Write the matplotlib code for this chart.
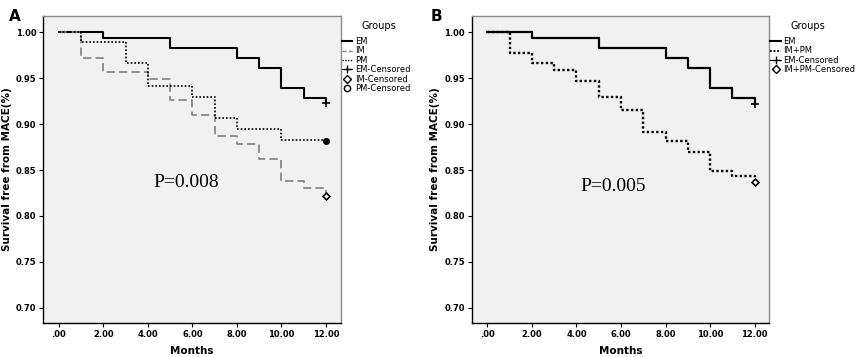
import matplotlib.pyplot as plt
from matplotlib.lines import Line2D

# Panel A: EM / IM / PM
a_em_t = [0, 2, 5, 8, 9, 10, 11, 12]
a_em_s = [1.0, 0.994, 0.983, 0.972, 0.961, 0.939, 0.928, 0.923]
a_im_t = [0, 1, 2, 4, 5, 6, 7, 8, 9, 10, 11, 12]
a_im_s = [1.0, 0.972, 0.957, 0.949, 0.926, 0.910, 0.887, 0.878, 0.862, 0.838, 0.830, 0.822]
a_pm_t = [0, 1, 3, 4, 6, 7, 8, 10, 12]
a_pm_s = [1.0, 0.989, 0.966, 0.942, 0.930, 0.907, 0.895, 0.883, 0.882]

# Panel B: EM / IM+PM
b_em_t = [0, 2, 5, 8, 9, 10, 11, 12]
b_em_s = [1.0, 0.994, 0.983, 0.972, 0.961, 0.939, 0.928, 0.922]
b_ip_t = [0, 1, 2, 3, 4, 5, 6, 7, 8, 9, 10, 11, 12]
b_ip_s = [1.0, 0.977, 0.966, 0.959, 0.947, 0.929, 0.915, 0.891, 0.882, 0.870, 0.849, 0.843, 0.837]

xticks = [0, 2, 4, 6, 8, 10, 12]
xlabels = ['.00', '2.00', '4.00', '6.00', '8.00', '10.00', '12.00']
yticks = [0.70, 0.75, 0.80, 0.85, 0.90, 0.95, 1.00]

fig = plt.figure(figsize=(8.56, 3.57), dpi=100)
axA = fig.add_axes([0.0506, 0.0961, 0.3474, 0.859])
axB = fig.add_axes([0.5514, 0.0961, 0.3473, 0.859])


def style(ax):
    ax.set_facecolor('#f1f1f1')
    ax.set_xlim(-0.69, 12.66)
    ax.set_ylim(0.6837, 1.0177)
    ax.set_xticks(xticks)
    ax.set_xticklabels(xlabels)
    ax.set_yticks(yticks)
    ax.set_yticklabels([f'{v:.2f}' for v in yticks])
    for lab in ax.get_xticklabels() + ax.get_yticklabels():
        lab.set_fontweight('bold')
        lab.set_fontsize(6)
    ax.tick_params(length=3, width=0.8, pad=2, color='black')
    for s in ['left', 'bottom']:
        ax.spines[s].set_color('black')
        ax.spines[s].set_linewidth(1.0)
    for s in ['top', 'right']:
        ax.spines[s].set_color('#8a8a8a')
        ax.spines[s].set_linewidth(1.0)
    ax.set_xlabel('Months', fontsize=7.5, fontweight='bold', labelpad=5)
    ax.set_ylabel('Survival free from MACE(%)', fontsize=7.5, fontweight='bold', labelpad=3)


style(axA)
style(axB)

# panel A curves
axA.step(a_em_t, a_em_s, where='post', color='black', lw=1.5)
axA.step(a_im_t, a_im_s, where='post', color='#808080', lw=1.2, dashes=(5, 2.5))
axA.step(a_pm_t, a_pm_s, where='post', color='black', lw=1.2, ls=(0, (1, 1.2)))
axA.plot(a_em_t[-1], a_em_s[-1], marker='+', color='black', ms=6, mew=1.2)
axA.plot(a_im_t[-1], a_im_s[-1], marker='D', mfc='white', mec='black', ms=3.5, mew=1.2)
axA.plot(a_pm_t[-1], a_pm_s[-1], marker='o', color='black', ms=4)
axA.text(0.48, 0.456, 'P=0.008', transform=axA.transAxes, ha='center', va='center',
         family='Liberation Serif', fontsize=14)

# panel B curves
axB.step(b_em_t, b_em_s, where='post', color='black', lw=1.6)
axB.step(b_ip_t, b_ip_s, where='post', color='black', lw=1.7, ls=(0, (1, 1)))
axB.plot(b_em_t[-1], b_em_s[-1], marker='+', color='black', ms=6, mew=1.2)
axB.plot(b_ip_t[-1], b_ip_s[-1], marker='D', mfc='white', mec='black', ms=3.5, mew=1.2)
axB.text(0.474, 0.443, 'P=0.005', transform=axB.transAxes, ha='center', va='center',
         family='Liberation Serif', fontsize=14)

# legends
hA = [Line2D([], [], color='black', lw=1.5),
      Line2D([], [], color='#808080', lw=1.0, dashes=(3, 1.5)),
      Line2D([], [], color='black', lw=1.0, ls=(0, (1, 1))),
      Line2D([], [], color='black', lw=0.8, marker='+', ms=6),
      Line2D([], [], ls='none', marker='D', mfc='white', mec='black', ms=4.5),
      Line2D([], [], ls='none', marker='o', mfc='white', mec='black', ms=4.5)]
lA = ['EM', 'IM', 'PM', 'EM-Censored', 'IM-Censored', 'PM-Censored']
hB = [Line2D([], [], color='black', lw=1.5),
      Line2D([], [], color='black', lw=1.3, ls=(0, (1, 1))),
      Line2D([], [], color='black', lw=0.8, marker='+', ms=6),
      Line2D([], [], ls='none', marker='D', mfc='white', mec='black', ms=4.5)]
lB = ['EM', 'IM+PM', 'EM-Censored', 'IM+PM-Censored']

for ax, h, l in [(axA, hA, lA), (axB, hB, lB)]:
    leg = ax.legend(h, l, title='Groups', loc='upper left', bbox_to_anchor=(1.0, 0.985),
                    frameon=False, fontsize=6, title_fontsize=7, handlelength=1.3,
                    handletextpad=0.3, labelspacing=0.05, borderaxespad=0.1, borderpad=0.0)
    leg._legend_box.align = 'left'
    leg._legend_box.sep = 4
    leg.get_title().set_position((20, 0))

fig.text(0.010, 0.975, 'A', fontsize=11, fontweight='bold', va='top')
fig.text(0.503, 0.975, 'B', fontsize=11, fontweight='bold', va='top')

plt.savefig('out.png', dpi=100)
